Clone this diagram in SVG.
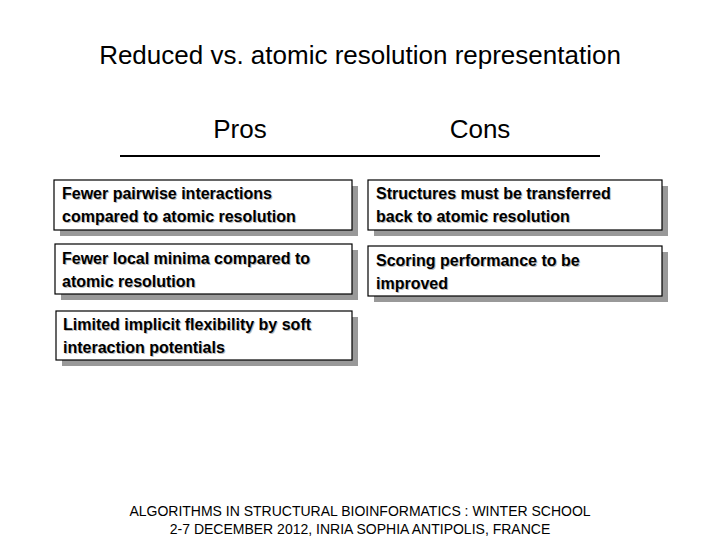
<svg xmlns="http://www.w3.org/2000/svg" width="720" height="540" viewBox="0 0 720 540">
<style>
.box{fill:#fff;stroke:#000;stroke-width:1.2}
.sh{fill:#999}
.t{font-family:"Liberation Sans",Arial,sans-serif;font-size:16px;font-weight:bold;fill:#000}
.ts{font-family:"Liberation Sans",Arial,sans-serif;font-size:16px;font-weight:bold;fill:#bbb}
.h{font-family:"Liberation Sans",Arial,sans-serif;fill:#000}
</style>
<rect width="720" height="540" fill="#fff"/>
<text class="h" x="360" y="64" font-size="26" text-anchor="middle">Reduced vs. atomic resolution representation</text>
<text class="h" x="240" y="138" font-size="26" text-anchor="middle">Pros</text>
<text class="h" x="480" y="138" font-size="26" text-anchor="middle">Cons</text>
<line x1="120" y1="156" x2="600" y2="156" stroke="#000" stroke-width="2"/>
<g id="n1"><rect class="sh" x="60" y="186" width="298" height="50"/><rect class="box" x="54" y="180" width="298" height="50"/>
<text class="ts" x="63" y="200">Fewer pairwise interactions</text><text class="ts" x="63" y="223">compared to atomic resolution</text>
<text class="t" x="62" y="199">Fewer pairwise interactions</text><text class="t" x="62" y="222">compared to atomic resolution</text></g>
<g id="n2"><rect class="sh" x="374" y="186" width="294" height="50"/><rect class="box" x="368" y="180" width="294" height="50"/>
<text class="ts" x="377" y="200">Structures must be transferred</text><text class="ts" x="377" y="223">back to atomic resolution</text>
<text class="t" x="376" y="199">Structures must be transferred</text><text class="t" x="376" y="222">back to atomic resolution</text></g>
<g id="n3"><rect class="sh" x="61" y="250" width="297" height="50"/><rect class="box" x="55" y="244" width="297" height="50"/>
<text class="ts" x="63" y="265">Fewer local minima compared to</text><text class="ts" x="63" y="288">atomic resolution</text>
<text class="t" x="62" y="264">Fewer local minima compared to</text><text class="t" x="62" y="287">atomic resolution</text></g>
<g id="n4"><rect class="sh" x="374" y="252" width="294" height="50"/><rect class="box" x="368" y="246" width="294" height="50"/>
<text class="ts" x="377" y="267">Scoring performance to be</text><text class="ts" x="377" y="290">improved</text>
<text class="t" x="376" y="266">Scoring performance to be</text><text class="t" x="376" y="289">improved</text></g>
<g id="n5"><rect class="sh" x="62" y="317" width="296" height="49"/><rect class="box" x="56" y="311" width="296" height="49"/>
<text class="ts" x="64" y="331">Limited implicit flexibility by soft</text><text class="ts" x="64" y="354">interaction potentials</text>
<text class="t" x="63" y="330">Limited implicit flexibility by soft</text><text class="t" x="63" y="353">interaction potentials</text></g>
<g id="connectors"></g>
<text class="h" x="360" y="516" font-size="14" text-anchor="middle">ALGORITHMS IN STRUCTURAL BIOINFORMATICS : WINTER SCHOOL</text>
<text class="h" x="360" y="534" font-size="14" text-anchor="middle">2-7 DECEMBER 2012, INRIA SOPHIA ANTIPOLIS, FRANCE</text>
</svg>
